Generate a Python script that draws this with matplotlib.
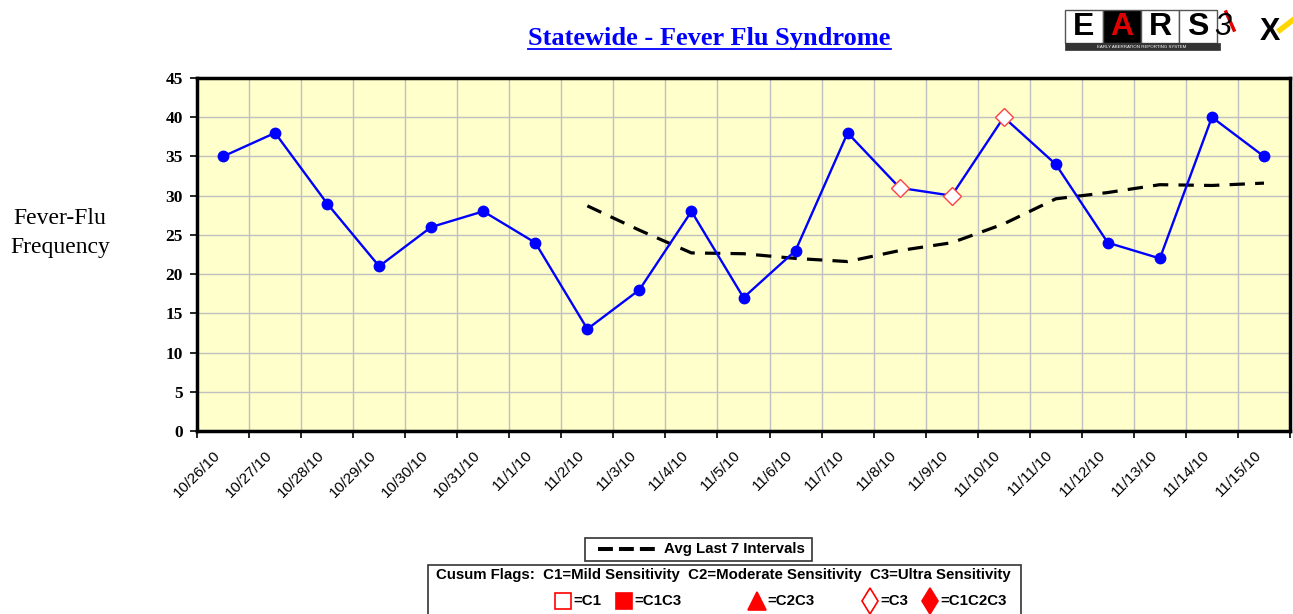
import matplotlib
matplotlib.use("Agg")
import matplotlib.pyplot as plt
import matplotlib.transforms as mtransforms
from matplotlib.patches import Rectangle
from matplotlib.lines import Line2D

dates = ["10/26/10", "10/27/10", "10/28/10", "10/29/10", "10/30/10", "10/31/10", "11/1/10",
         "11/2/10", "11/3/10", "11/4/10", "11/5/10", "11/6/10", "11/7/10", "11/8/10",
         "11/9/10", "11/10/10", "11/11/10", "11/12/10", "11/13/10", "11/14/10", "11/15/10"]
counts = [35, 38, 29, 21, 26, 28, 24, 13, 18, 28, 17, 23, 38, 31, 30, 40, 34, 24, 22, 40, 35]
avg7 = [None, None, None, None, None, None, None,
        28.7, 25.6, 22.7, 22.6, 22.0, 21.6, 23.0, 24.0, 26.4, 29.6, 30.4, 31.4, 31.3, 31.6]
c3_flags = ["11/8/10", "11/9/10", "11/10/10"]
yticks = [0, 5, 10, 15, 20, 25, 30, 35, 40, 45]

W, H = 1293, 614
fig = plt.figure(figsize=(W / 100, H / 100), dpi=100)
fig.patch.set_facecolor("white")

L, R, T, B = 197, 1290, 78, 431
ax = fig.add_axes([L / W, 1 - B / H, (R - L) / W, (B - T) / H])
ax.set_facecolor("#FFFFCC")

x = list(range(len(dates)))
ax.plot(x, counts, color="#0000FF", lw=1.7, marker="o", ms=7.5,
        markerfacecolor="#0000FF", markeredgecolor="#0000FF", zorder=4)
ax_avg = [(i, v) for i, v in zip(x, avg7) if v is not None]
ax.plot([p[0] for p in ax_avg], [p[1] for p in ax_avg], color="black", lw=2.3,
        dashes=(4.8, 3.2), zorder=3)
fx = [dates.index(d) for d in c3_flags]
fy = [counts[i] for i in fx]
ax.plot(fx, fy, ls="none", marker="D", ms=9, markerfacecolor="white",
        markeredgecolor="#FF4040", markeredgewidth=1.0, zorder=5)

ax.set_xlim(-0.5, len(dates) - 0.5)
ax.set_ylim(0, 45)
ax.set_yticks(yticks)
ax.set_yticklabels([str(v) for v in yticks], fontsize=12.5, fontweight="bold",
                   family="Liberation Serif")
ax.set_xticks([i - 0.5 for i in range(len(dates) + 1)])
ax.set_xticklabels([])
# category labels, rotated, anchored just left of each category centre
lab_tr = ax.get_xaxis_transform() + mtransforms.ScaledTranslation(-5 / 100, -22 / 100,
                                                                   fig.dpi_scale_trans)
for i, d in zip(x, dates):
    ax.text(i, 0, d, transform=lab_tr, rotation=45, ha="right", va="center",
            rotation_mode="anchor", fontsize=11, family="Liberation Sans", clip_on=False)
ax.tick_params(axis="x", which="major", length=5, width=1.2, direction="out")
ax.tick_params(axis="y", length=5, width=1.2, direction="out", pad=5)
ax.grid(True, which="major", color="#C0C0C0", lw=1.0)
ax.set_axisbelow(True)
for s in ax.spines.values():
    s.set_linewidth(2.5)
    s.set_color("black")

# Title
fig.text(709 / W, 1 - 45 / H, "Statewide - Fever Flu Syndrome", ha="center", va="baseline",
         fontsize=19, fontweight="bold", color="#0000FF", family="Liberation Serif")
fig.add_artist(Line2D([528 / W, 891 / W], [1 - 49 / H, 1 - 49 / H], color="#0000FF",
                      lw=1.3))

# Y label
fig.text(60 / W, 1 - 233 / H, "Fever-Flu\nFrequency", ha="center", va="center",
         fontsize=17, family="Liberation Serif", linespacing=1.45)

# Legend boxes
def box(x0, y0, x1, y1):
    fig.add_artist(Rectangle((x0 / W, 1 - y1 / H), (x1 - x0) / W, (y1 - y0) / H,
                             transform=fig.transFigure, facecolor="white",
                             edgecolor="#333333", lw=1.2))

box(585, 538, 812, 561)
fig.add_artist(Line2D([598 / W, 655 / W], [1 - 549 / H] * 2, color="black", lw=2.9,
                      dashes=(3.7, 1.5)))
fig.text(664 / W, 1 - 549 / H, "Avg Last 7 Intervals", ha="left", va="center",
         fontsize=10.8, fontweight="bold", family="Liberation Sans")

box(428, 565, 1021, 640)
fig.text(436 / W, 1 - 575 / H,
         "Cusum Flags:  C1=Mild Sensitivity  C2=Moderate Sensitivity  C3=Ultra Sensitivity",
         ha="left", va="center", fontsize=10.8, fontweight="bold", family="Liberation Sans")
items = [(563, "s", "none", "=C1"), (624, "s", "red", "=C1C3"),
         (757, "^", "red", "=C2C3"), (870, "d", "none", "=C3"), (930, "d", "red", "=C1C2C3")]
for px, mk, fc, lab in items:
    fig.add_artist(Line2D([px / W], [1 - 601 / H], marker=mk,
                          ms={"s": 11, "^": 13, "d": 13}[mk],
                          markerfacecolor=fc if fc != "none" else "white",
                          markeredgecolor="red", markeredgewidth=1.2, ls="none"))
    fig.text((px + 10) / W, 1 - 601 / H, lab, ha="left", va="center", fontsize=10.8,
             fontweight="bold", family="Liberation Sans")

# EARS logo
lx0 = 1065
letters = [("E", "white", "black"), ("A", "black", "#E00000"), ("R", "white", "black"),
           ("S", "white", "black")]
bw = 38
for i, (ch, bg, fg) in enumerate(letters):
    fig.add_artist(Rectangle(((lx0 + i * bw) / W, 1 - 43 / H), bw / W, 33 / H,
                             transform=fig.transFigure, facecolor=bg, edgecolor="#555555",
                             lw=1))
    fig.text((lx0 + i * bw + bw / 2) / W, 1 - 27 / H, ch, ha="center", va="center",
             fontsize=23, color=fg, fontweight="bold", family="Liberation Sans")
fig.add_artist(Rectangle((lx0 / W, 1 - 50 / H), 155 / W, 7 / H, transform=fig.transFigure,
                         facecolor="#333333", edgecolor="#333333", lw=0.5))
fig.text((lx0 + 77) / W, 1 - 46.5 / H, "EARLY ABERRATION REPORTING SYSTEM", ha="center",
         va="center", fontsize=3.2, color="white", family="Liberation Sans")
fig.text(1223 / W, 1 - 27 / H, "3", ha="center", va="center", fontsize=22, color="black",
         family="Liberation Sans", fontstyle="italic")
fig.add_artist(Line2D([1226 / W, 1234 / W], [1 - 12 / H, 1 - 30 / H], color="#E00000",
                      lw=2.5))
fig.text(1270 / W, 1 - 32 / H, "X", ha="center", va="center", fontsize=22, color="black",
         fontweight="bold", family="Liberation Sans")
fig.add_artist(Line2D([1280 / W, 1293 / W], [1 - 30 / H, 1 - 20 / H], color="#FFD700",
                      lw=4))

fig.savefig("out.png", dpi=100)
